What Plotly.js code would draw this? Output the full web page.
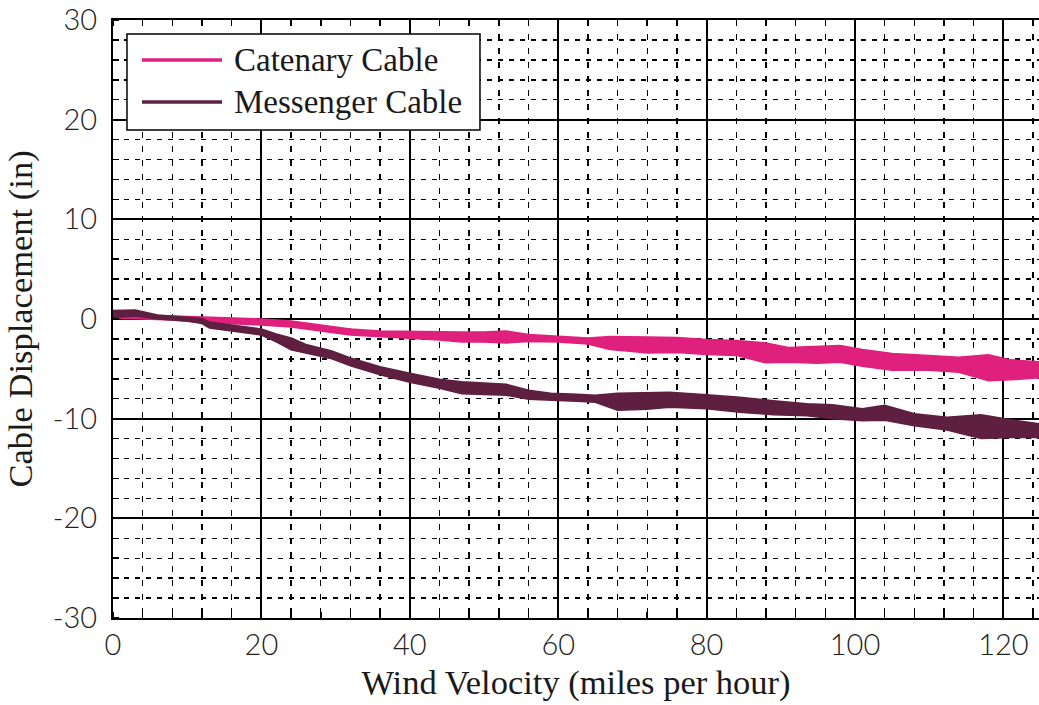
<!DOCTYPE html>
<html>
<head>
<meta charset="utf-8">
<script src="https://cdn.plot.ly/plotly-3.0.1.min.js"></script>
<style>html,body{margin:0;padding:0;background:#fff;}#chart{width:1039px;height:705px;}</style>
</head>
<body>
<div id="chart"></div>
<script>
// Wind velocity sample points (mph) and read-off envelopes (in) of each noisy band
const catenaryVelocity = [0, 4, 8, 12, 16, 20, 24, 28, 32, 36, 40, 44, 47, 50, 53, 56, 60, 64, 67, 70, 72, 76, 80, 84, 88, 91, 95, 98, 101, 105, 110, 114, 118, 121, 124.8];
const catenaryLow  = [0.1, 0.0, -0.1, -0.35, -0.45, -0.6, -0.8, -1.2, -1.6, -1.8, -1.95, -2.1, -2.3, -2.3, -2.4, -2.25, -2.3, -2.5, -3.05, -3.25, -3.4, -3.35, -3.55, -3.65, -4.4, -4.35, -4.45, -4.35, -4.75, -5.15, -5.15, -5.35, -6.2, -6.1, -5.9];
const catenaryHigh = [0.5, 0.4, 0.3, 0.15, 0.05, 0.0, -0.2, -0.6, -1.0, -1.2, -1.25, -1.3, -1.3, -1.3, -1.2, -1.55, -1.7, -1.9, -1.75, -1.75, -1.8, -1.85, -2.05, -2.15, -2.4, -2.85, -2.75, -2.65, -3.05, -3.45, -3.65, -3.85, -3.6, -4.1, -4.3];

const messengerVelocity = [0, 3, 6, 10, 12, 13, 16, 20, 22, 24, 26, 29.5, 32, 36, 40, 44, 47, 50, 53, 56, 59, 62.5, 65, 68, 72, 75, 80, 84.5, 89, 93.5, 97, 101, 104, 108, 112.4, 117, 121, 124.8];
const messengerLow  = [0.15, 0.3, 0.0, -0.2, -0.45, -0.9, -1.2, -1.6, -2.3, -3.1, -3.45, -4.0, -4.7, -5.6, -6.35, -6.95, -7.5, -7.6, -7.65, -8.05, -8.15, -8.25, -8.35, -9.15, -9.05, -8.85, -9.0, -9.35, -9.6, -9.7, -10.0, -10.2, -10.15, -10.7, -11.15, -12.0, -11.9, -11.9];
const messengerHigh = [0.85, 0.9, 0.4, 0.2, 0.05, -0.3, -0.6, -1.0, -1.5, -1.9, -2.55, -3.2, -3.9, -4.8, -5.45, -6.05, -6.3, -6.4, -6.55, -7.15, -7.45, -7.55, -7.65, -7.45, -7.35, -7.35, -7.6, -7.85, -8.2, -8.5, -8.6, -9.0, -8.65, -9.5, -9.85, -9.6, -10.1, -10.5];

const seriesNames = ['Catenary Cable', 'Messenger Cable'];
const seriesColors = ['rgb(224,32,125)', 'rgb(94,31,64)'];

const xTickVals = [0, 20, 40, 60, 80, 100, 120];
const yTickVals = [-30, -20, -10, 0, 10, 20, 30];

function band(xs, lo, hi, name, color) {
  return {
    type: 'scatter', mode: 'lines', name: name,
    x: xs.concat(xs.slice().reverse()),
    y: hi.concat(lo.slice().reverse()),
    fill: 'toself', fillcolor: color,
    line: {color: color, width: 1.5},
    hoverinfo: 'skip', showlegend: false
  };
}

const data = [
  band(catenaryVelocity, catenaryLow, catenaryHigh, seriesNames[0], seriesColors[0]),
  band(messengerVelocity, messengerLow, messengerHigh, seriesNames[1], seriesColors[1])
];

const tickFont = {family: 'Lato, Liberation Sans, sans-serif', size: 29, color: '#222', weight: 300};
const titleFont = {family: 'Liberation Serif, Times New Roman, serif', size: 34.5, color: '#1a1a1a'};

// legend (drawn in paper coordinates)
const legX0 = 0.0151, legX1 = 0.3963, legY0 = 0.816, legY1 = 0.9766;
const legRowsY = [0.9331, 0.8629];
const shapes = [{type: 'rect', xref: 'paper', yref: 'paper', x0: legX0, x1: legX1, y0: legY0, y1: legY1,
  fillcolor: 'white', line: {color: 'black', width: 1.5}, layer: 'above'}];
const annotations = [];
seriesNames.forEach((n, i) => {
  shapes.push({type: 'line', xref: 'paper', yref: 'paper', x0: 0.0313, x1: 0.1177, y0: legRowsY[i], y1: legRowsY[i],
    line: {color: seriesColors[i], width: 3.5}, layer: 'above'});
  annotations.push({xref: 'paper', yref: 'paper', x: 0.1285, y: legRowsY[i], xanchor: 'left', yanchor: 'middle',
    text: n, showarrow: false, font: {family: titleFont.family, size: 33, color: '#1a1a1a'}});
});

const layout = {
  width: 1039, height: 705,
  margin: {l: 113, r: 0, t: 20, b: 87, pad: 0},
  paper_bgcolor: 'white', plot_bgcolor: 'white',
  showlegend: false,
  xaxis: {
    range: [0, 124.8], tickvals: xTickVals, ticktext: xTickVals.map(String),
    showgrid: true, gridcolor: 'black', gridwidth: 2, zeroline: false,
    showline: true, linecolor: 'black', linewidth: 2, mirror: 'allticks',
    ticks: '', tickfont: tickFont,
    minor: {dtick: 4, tick0: 0, showgrid: true, gridcolor: 'black', gridwidth: 1.4, griddash: '6px,8px',
            ticks: 'inside', ticklen: 6, tickcolor: 'black', tickwidth: 1.5},
    title: {text: 'Wind Velocity (miles per hour)', font: titleFont, standoff: 10},
    fixedrange: true
  },
  yaxis: {
    range: [-30, 30], tickvals: yTickVals, ticktext: yTickVals.map(String),
    showgrid: true, gridcolor: 'black', gridwidth: 2, zeroline: false,
    showline: true, linecolor: 'black', linewidth: 2, mirror: false,
    ticks: '', tickfont: tickFont, ticklabelstandoff: 8,
    minor: {dtick: 2, tick0: 0, showgrid: true, gridcolor: 'black', gridwidth: 1.4, griddash: '5px,6px',
            ticks: 'inside', ticklen: 6, tickcolor: 'black', tickwidth: 1.5},
    title: {text: 'Cable Displacement (in)', font: titleFont, standoff: 10},
    fixedrange: true
  },
  shapes: shapes,
  annotations: annotations
};

Plotly.newPlot('chart', data, layout, {staticPlot: true, displayModeBar: false});
</script>
</body>
</html>
